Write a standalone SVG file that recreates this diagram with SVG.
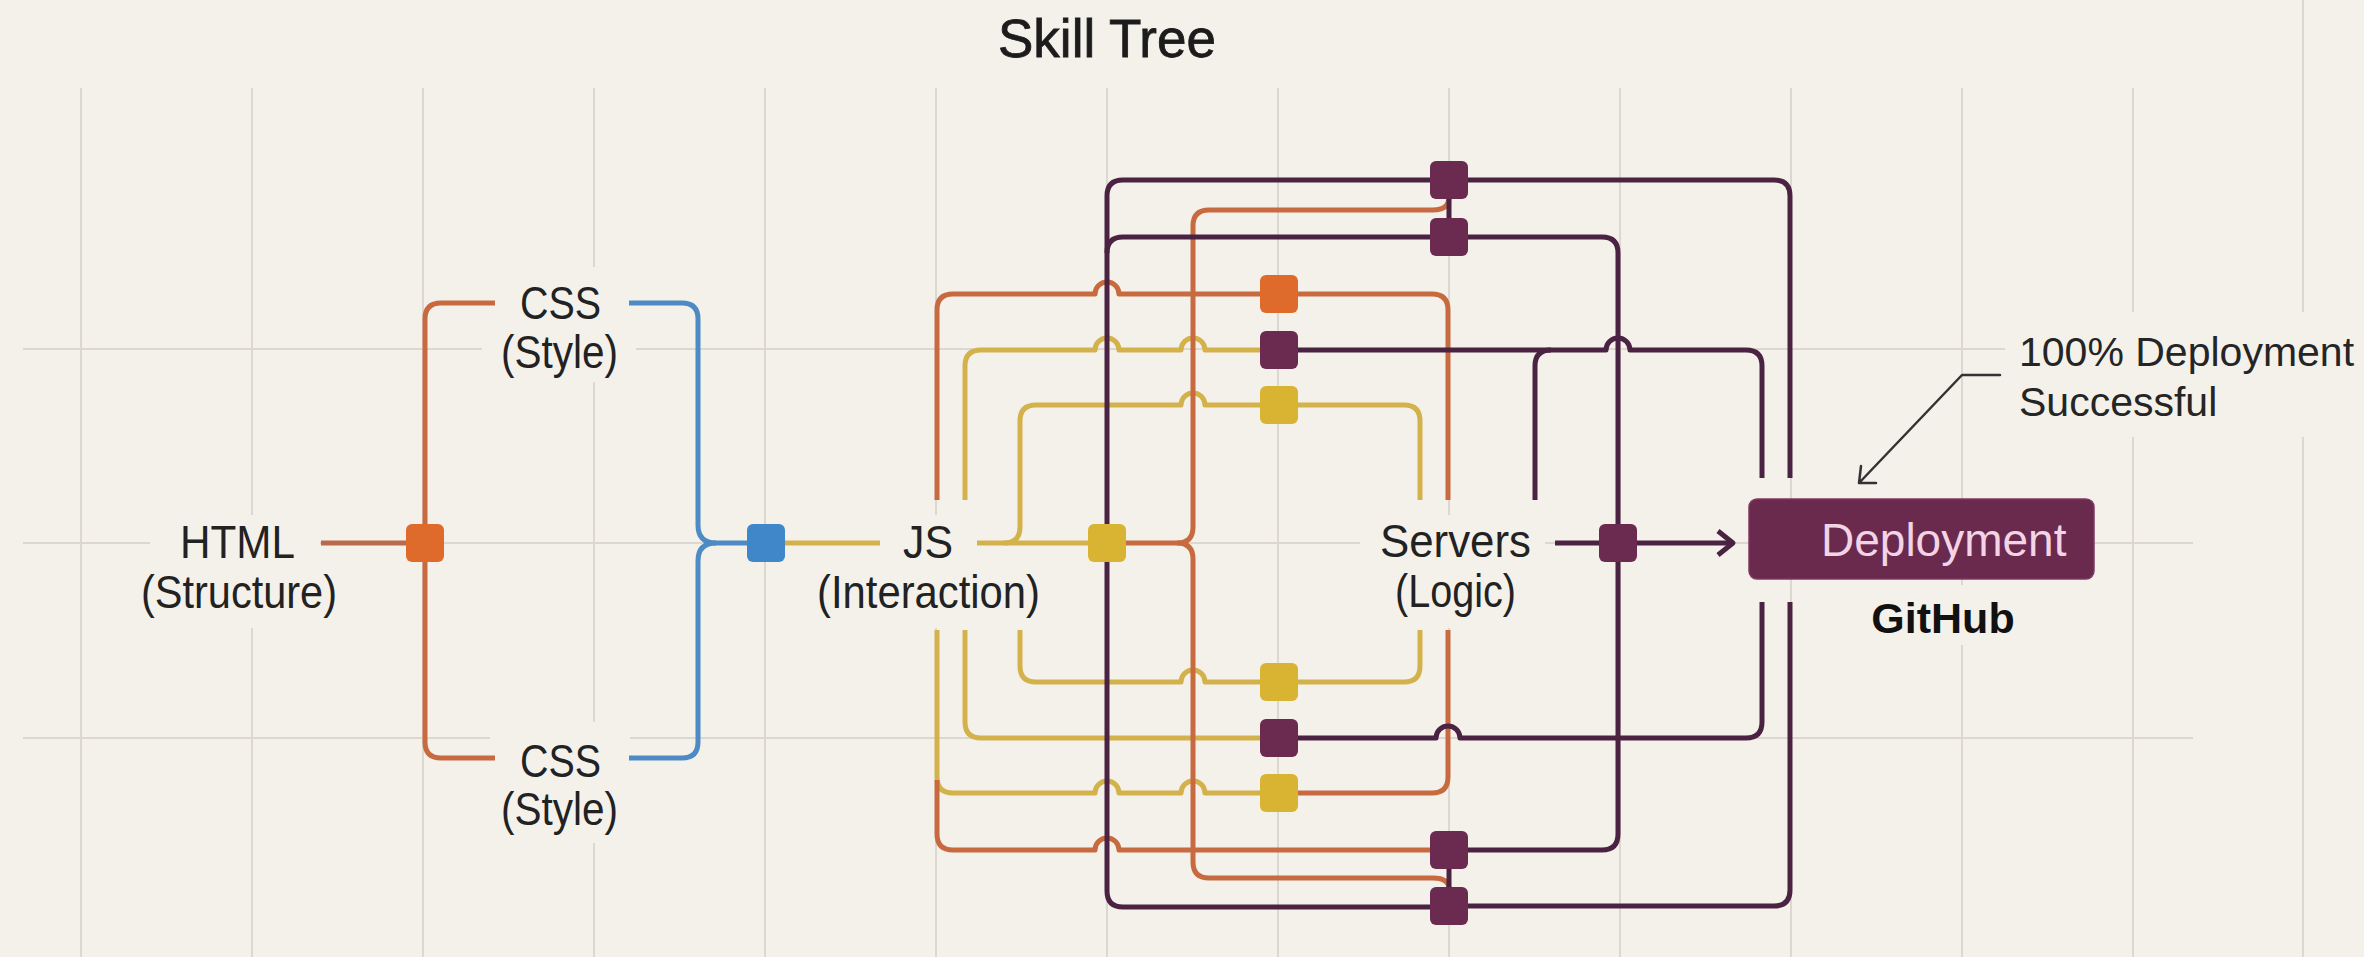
<svg xmlns="http://www.w3.org/2000/svg" width="2364" height="957" viewBox="0 0 2364 957">
<style>
.g{stroke:#DCD7CF;stroke-width:2;fill:none}
.bg{fill:#F4F1EB}
.c{fill:none;stroke-width:5;stroke-linecap:butt;stroke-linejoin:round}
.y{stroke:#D3B24C}
.o{stroke:#C86A40}
.oh{stroke:#B96A4C}
.p{stroke:#4B2342}
.b{stroke:#4E8BC5}
.sq{rx:6;ry:6}
.sy{fill:#D9B433}
.so{fill:#DE6B2C}
.sp{fill:#6B2A50}
.sb{fill:#3F87C8}
.t{font-family:"Liberation Sans",Arial,sans-serif;font-size:46px;fill:#222}
.title{font-family:"Liberation Sans",Arial,sans-serif;font-size:53px;fill:#1c1c1c;stroke:#1c1c1c;stroke-width:0.8}
.ann{font-family:"Liberation Sans",Arial,sans-serif;font-size:41px;fill:#252525}
.lead{fill:none;stroke:#333;stroke-width:2.5;stroke-linecap:round;stroke-linejoin:round}
</style>
<rect x="0" y="0" width="2364" height="957" fill="#F4F1EB"/>
<g id="grid">
<path class="g" d="M81 88V957M252 88V957M423 88V957M594 88V957M765 88V957M936 88V957M1107 88V957M1278 88V957M1449 88V957M1620 88V957M1791 88V957M1962 88V957M2133 88V957M2303 0V957"/>
<path class="g" d="M23 349H2193M23 543H2193M23 738H2193"/>
</g>
<g id="label-backgrounds">
<rect class="bg" x="150" y="515" width="170" height="113"/>
<rect class="bg" x="482" y="267" width="154" height="115"/>
<rect class="bg" x="490" y="722" width="140" height="121"/>
<rect class="bg" x="810" y="515" width="235" height="113"/>
<rect class="bg" x="1360" y="515" width="185" height="113"/>
<rect class="bg" x="1860" y="585" width="170" height="60"/>
<rect class="bg" x="2005" y="312" width="359" height="125"/>
</g>
<g id="title"><text class="title" x="1107" y="57" text-anchor="middle">Skill Tree</text></g>
<g id="connectors">
<path class="c oh" d="M321 543H406"/>
<path class="c o" d="M495 303H441Q425 303 425 319V742Q425 758 441 758H495"/>
<path class="c b" d="M629 303H682Q698 303 698 319V525Q698 543 716 543H747"/>
<path class="c b" d="M629 758H682Q698 758 698 742V561Q698 543 716 543"/>
<path class="c y" d="M785 543H880"/>
<path class="c y" d="M977 543H1088"/>
<path class="c y" d="M965 500V366Q965 350 981 350H1095A12 12 0 0 1 1119 350H1181A12 12 0 0 1 1205 350H1260"/>
<path class="c y" d="M1004 543Q1020 543 1020 527V421Q1020 405 1036 405H1181A12 12 0 0 1 1205 405H1260"/>
<path class="c y" d="M1298 405H1404Q1420 405 1420 421V500"/>
<path class="c y" d="M1020 630V666Q1020 682 1036 682H1181A12 12 0 0 1 1205 682H1260"/>
<path class="c y" d="M1298 682H1404Q1420 682 1420 666V630"/>
<path class="c y" d="M965 630V722Q965 738 981 738H1260"/>
<path class="c y" d="M937 630V777Q937 793 953 793H1095A12 12 0 0 1 1119 793H1181A12 12 0 0 1 1205 793H1260"/>
<path class="c o" d="M937 500V310Q937 294 953 294H1095A12 12 0 0 1 1119 294H1260"/>
<path class="c o" d="M1298 294H1432Q1448 294 1448 310V500"/>
<path class="c o" d="M1126 543H1177Q1193 543 1193 527V226Q1193 210 1209 210H1433Q1449 210 1449 197"/>
<path class="c o" d="M1177 543Q1193 543 1193 559V862Q1193 878 1209 878H1433Q1449 878 1449 889"/>
<path class="c o" d="M937 780V834Q937 850 953 850H1095A12 12 0 0 1 1119 850H1430"/>
<path class="c o" d="M1298 793H1432Q1448 793 1448 777V630"/>
<path class="c p" d="M1107 524V196Q1107 180 1123 180H1430"/>
<path class="c p" d="M1107 253Q1107 237 1123 237H1430"/>
<path class="c p" d="M1468 180H1774Q1790 180 1790 196V478"/>
<path class="c p" d="M1468 237H1602Q1618 237 1618 253V834Q1618 850 1602 850H1468"/>
<path class="c p" d="M1298 350H1606A12 12 0 0 1 1630 350H1746Q1762 350 1762 366V478"/>
<path class="c p" d="M1535 500V366Q1535 350 1551 350"/>
<path class="c p" d="M1298 738H1436A12 12 0 0 1 1460 738H1746Q1762 738 1762 722V602"/>
<path class="c p" d="M1107 562V891Q1107 907 1123 907H1430"/>
<path class="c p" d="M1468 906H1774Q1790 906 1790 890V602"/>
<path class="c p" d="M1449 198V218M1449 869V887"/>
<path class="c p" d="M1555 543H1600"/>
<path class="c p" d="M1637 543H1731" stroke-width="4"/>
<path class="c p" d="M1718 531L1733 543L1718 555" stroke-width="3"/>
<path class="lead" d="M2000 375H1962L1859 483M1861 466L1859 483L1876 483"/>
</g>
<g id="junctions">
<rect class="sq so" x="406" y="524" width="38" height="38"/>
<rect class="sq sb" x="747" y="524" width="38" height="38"/>
<rect class="sq sy" x="1088" y="524" width="38" height="38"/>
<rect class="sq sp" x="1599" y="524" width="38" height="38"/>
<rect class="sq so" x="1260" y="275" width="38" height="38"/>
<rect class="sq sp" x="1260" y="331" width="38" height="38"/>
<rect class="sq sy" x="1260" y="386" width="38" height="38"/>
<rect class="sq sy" x="1260" y="663" width="38" height="38"/>
<rect class="sq sp" x="1260" y="719" width="38" height="38"/>
<rect class="sq sy" x="1260" y="774" width="38" height="38"/>
<rect class="sq sp" x="1430" y="161" width="38" height="38"/>
<rect class="sq sp" x="1430" y="218" width="38" height="38"/>
<rect class="sq sp" x="1430" y="831" width="38" height="38"/>
<rect class="sq sp" x="1430" y="887" width="38" height="38"/>
</g>
<g id="node-html">
<text class="t" x="180" y="558" textLength="115" lengthAdjust="spacingAndGlyphs">HTML</text>
<text class="t" x="141" y="608" textLength="196" lengthAdjust="spacingAndGlyphs">(Structure)</text>
</g>
<g id="node-css-top">
<text class="t" x="520" y="319" textLength="81" lengthAdjust="spacingAndGlyphs">CSS</text>
<text class="t" x="501" y="368" textLength="117" lengthAdjust="spacingAndGlyphs">(Style)</text>
</g>
<g id="node-css-bottom">
<text class="t" x="520" y="777" textLength="81" lengthAdjust="spacingAndGlyphs">CSS</text>
<text class="t" x="501" y="825" textLength="117" lengthAdjust="spacingAndGlyphs">(Style)</text>
</g>
<g id="node-js">
<text class="t" x="903" y="558" textLength="50" lengthAdjust="spacingAndGlyphs">JS</text>
<text class="t" x="817" y="608" textLength="223" lengthAdjust="spacingAndGlyphs">(Interaction)</text>
</g>
<g id="node-servers">
<text class="t" x="1380" y="557" textLength="151" lengthAdjust="spacingAndGlyphs">Servers</text>
<text class="t" x="1395" y="607" textLength="121" lengthAdjust="spacingAndGlyphs">(Logic)</text>
</g>
<g id="node-deployment">
<rect x="1749" y="499" width="345" height="80" rx="8" fill="#6A2A4E" stroke="#7E3A62" stroke-width="1.5"/>
<text class="t" x="1821" y="556" style="fill:#F3D3E6">Deployment</text>
<text x="1943" y="633" text-anchor="middle" font-family="Liberation Sans, Arial, sans-serif" font-size="43" font-weight="bold" fill="#111">GitHub</text>
</g>
<g id="annotation">
<text class="ann" x="2019" y="366">100% Deployment</text>
<text class="ann" x="2019" y="416">Successful</text>
</g>
</svg>
